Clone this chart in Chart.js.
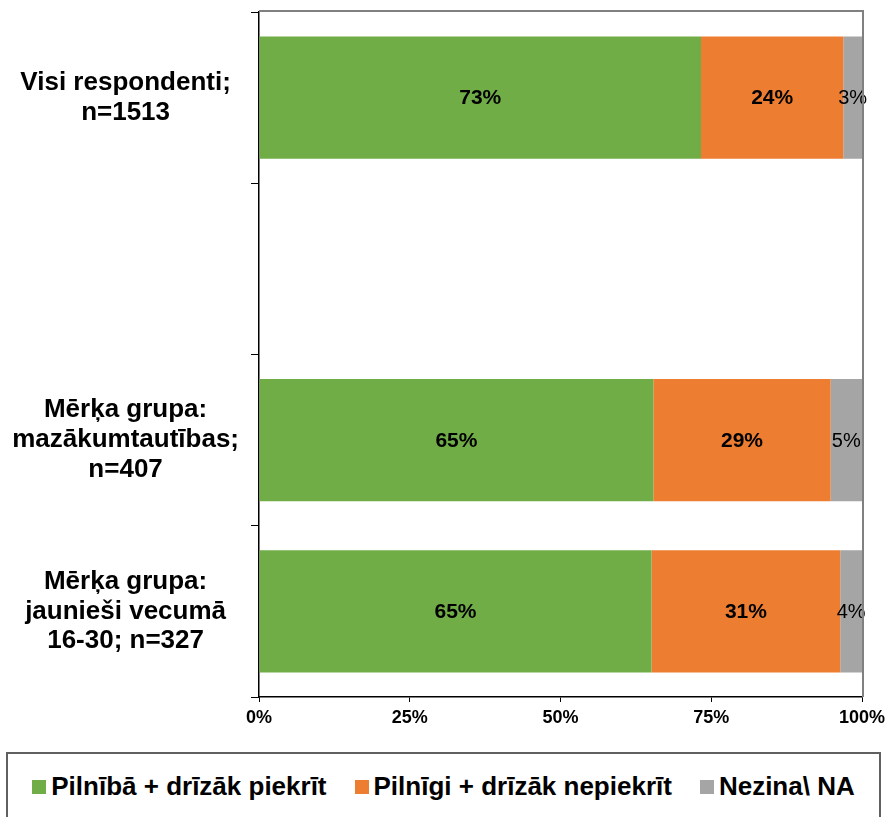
<!DOCTYPE html>
<html lang="lv">
<head>
<meta charset="UTF-8">
<title>Piekrišana</title>
<script src="https://cdn.jsdelivr.net/npm/chart.js"></script>
<style>
  html, body { margin: 0; padding: 0; background: #fff; }
  #wrap { position: relative; width: 889px; height: 817px; overflow: hidden; }
  #chart { position: absolute; left: 0; top: 0; }
  #legend {
    position: absolute; left: 6px; top: 752px; width: 875px; height: 80px;
    border: 2px solid #606060; box-sizing: border-box;
    display: flex; justify-content: center; align-items: flex-start; padding-top: 17px;
    font: bold 26px "Liberation Sans", Arial, sans-serif; color: #000;
  }
  .item { display: flex; align-items: center; margin: 0 14px; white-space: nowrap; }
  .sw { width: 14px; height: 14px; margin-right: 5px; }
</style>
</head>
<body>
<div id="wrap">
  <canvas id="chart" width="889" height="745"></canvas>
  <div id="legend"></div>
</div>
<script>
// categories (empty slot kept as in the original layout)
const categories = [
  ['Visi respondenti;', 'n=1513'],
  '',
  ['Mērķa grupa:', 'mazākumtautības;', 'n=407'],
  ['Mērķa grupa:', 'jaunieši vecumā', '16-30; n=327']
];
const seriesNames = ['Pilnībā + drīzāk piekrīt', 'Pilnīgi + drīzāk nepiekrīt', 'Nezina\\ NA'];
const agree    = [73.3, null, 65.4, 65.1];
const disagree = [23.6, null, 29.4, 31.3];
const unknown  = [3.1,  null, 5.2,  3.6];
const xTicks = [0, 25, 50, 75, 100];

const colors = ['#70AD47', '#ED7D31', '#A5A5A5'];
const FONT = '"Liberation Sans", Arial, sans-serif';

// draws the % values inside the segments
const valueLabels = {
  id: 'valueLabels',
  afterDatasetsDraw(chart) {
    const ctx = chart.ctx;
    ctx.save();
    ctx.textAlign = 'center';
    ctx.textBaseline = 'middle';
    ctx.fillStyle = '#000';
    chart.data.datasets.forEach((ds, i) => {
      const meta = chart.getDatasetMeta(i);
      meta.data.forEach((bar, j) => {
        const v = ds.data[j];
        if (v == null) return;
        ctx.font = (i < 2 ? 'bold 21px ' : '20px ') + FONT;
        ctx.fillText(Math.round(v) + '%', (bar.x + bar.base) / 2, bar.y + 1);
      });
    });
    ctx.restore();
  }
};

// grey frame on top and right of plot area
const frame = {
  id: 'frame',
  afterDraw(chart) {
    const a = chart.chartArea;
    const ctx = chart.ctx;
    ctx.save();
    ctx.strokeStyle = '#808080';
    ctx.lineWidth = 2;
    ctx.beginPath();
    ctx.moveTo(a.left, a.top - 1);
    ctx.lineTo(a.right + 1, a.top - 1);
    ctx.lineTo(a.right + 1, a.bottom);
    ctx.stroke();
    ctx.restore();
  }
};

const datasets = [agree, disagree, unknown].map((d, i) => ({
  label: seriesNames[i],
  data: d,
  backgroundColor: colors[i],
  borderWidth: 0,
  categoryPercentage: 1,
  barPercentage: 0.715
}));

new Chart(document.getElementById('chart'), {
  type: 'bar',
  data: { labels: categories, datasets: datasets },
  options: {
    indexAxis: 'y',
    responsive: false,
    animation: false,
    layout: { padding: { top: 12, right: 27, left: 0, bottom: 0 } },
    plugins: { legend: { display: false }, tooltip: { enabled: false } },
    scales: {
      x: {
        stacked: true,
        min: 0, max: 100,
        afterBuildTicks: s => { s.ticks = xTicks.map(v => ({ value: v })); },
        afterFit: s => { s.height = 48; s.paddingLeft = 0; s.paddingRight = 0; },
        grid: { drawOnChartArea: false, drawTicks: true, tickLength: 5, color: '#000' },
        border: { display: true, color: '#000', width: 1.5 },
        ticks: {
          callback: v => v + '%',
          color: '#000',
          padding: 5,
          maxRotation: 0,
          font: { family: FONT, size: 18, weight: 'bold' }
        }
      },
      y: {
        stacked: true,
        afterFit: s => { s.width = 259; s.paddingTop = 0; s.paddingBottom = 0; },
        grid: { offset: true, drawOnChartArea: false, drawTicks: true, tickLength: 8, color: '#000' },
        border: { display: true, color: '#000', width: 1.5 },
        ticks: {
          crossAlign: 'center',
          padding: 12,
          color: '#000',
          font: { family: FONT, size: 26, weight: 'bold', lineHeight: 1.15 }
        }
      }
    }
  },
  plugins: [valueLabels, frame]
});

// legend
const lg = document.getElementById('legend');
seriesNames.forEach((n, i) => {
  const it = document.createElement('div');
  it.className = 'item';
  const sw = document.createElement('span');
  sw.className = 'sw';
  sw.style.background = colors[i];
  const tx = document.createElement('span');
  tx.textContent = n;
  it.appendChild(sw);
  it.appendChild(tx);
  lg.appendChild(it);
});
</script>
</body>
</html>
